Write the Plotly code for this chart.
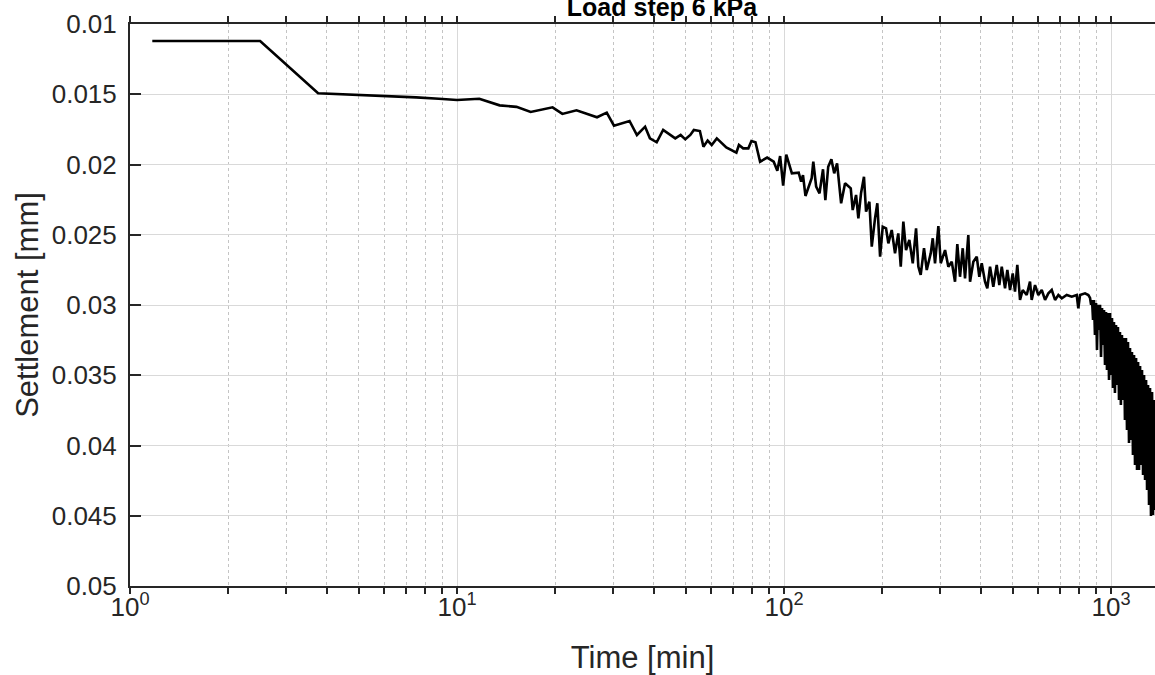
import plotly.graph_objects as go

# time [min] and settlement [mm]
time_min = [
    1.17, 2.5, 3.76, 5.0, 6.25, 7.5, 8.8, 10.0, 11.7, 13.5, 15.2, 16.8, 19.6, 21.0, 23.2, 26.8, 28.7, 30.2,
    33.7, 35.5, 37.6, 38.9, 40.8, 42.7, 46.5, 48.3, 49.9, 51.7, 53.0, 55.3, 56.7, 58.4, 60.1, 62.3,
    66.6, 71.5, 72.8, 75.0, 77.8, 79.5, 81.8, 84.5, 88.8, 93.0, 95.4, 97.3, 99.4, 101.6, 105.7, 110.9,
    112.8, 114.3, 116.3, 121.5, 122.9, 125.4, 128.4, 131.6, 133.8, 136.5, 139.6, 142.4, 145.3,
    149.5, 153.7, 160.0, 162.2, 166.1, 168.8, 172.0, 175.6, 178.2, 182.4, 185.5, 189.8, 192.9, 196.7,
    200.4, 205.1, 208.5, 213.5, 218.5, 223.6, 227.5, 231.7, 236.1, 241.7, 247.6, 253.4, 257.5, 261.8,
    268.0, 273.2, 281.0, 285.0, 289.6, 296.5, 301.5, 310.8, 318.1, 325.8, 333.4, 338.8, 345.3, 352.0,
    357.7, 366.1, 370.6, 379.3, 388.5, 395.6, 402.4, 411.8, 418.5, 426.6, 436.6, 447.2, 455.4, 463.3,
    474.1, 481.9, 491.1, 500.5, 508.6, 516.9, 526.9, 537.0, 552.3, 565.3, 572.0, 585.6, 599.4, 614.0,
    628.5, 643.3, 658.8, 674.3, 690.2, 706.9, 732.1, 758.3, 785.4, 794.3, 804.0, 832.8, 852.4,
    862.7, 869, 875, 881, 887, 893, 900, 906, 912, 918.6, 925.6, 932, 938.7, 945, 952, 958.5,
    965.5, 972, 979, 986, 993, 1000, 1007, 1014, 1021, 1028, 1036, 1043, 1050, 1058, 1065, 1072,
    1080, 1088, 1096, 1103, 1111, 1119, 1127, 1135, 1143, 1151, 1159, 1167, 1176, 1184, 1193, 1201,
    1210, 1218, 1227, 1235, 1244, 1253, 1262, 1271, 1280, 1289, 1298, 1307, 1316, 1325, 1335, 1344,
    1354, 1363,
]
settlement_mm = [
    0.01121, 0.01121, 0.01493, 0.01503, 0.01512, 0.01522, 0.01532, 0.01541, 0.01532, 0.01579, 0.0159,
    0.01626, 0.01593, 0.0164, 0.01614, 0.01664, 0.01631, 0.01724,
    0.0169, 0.0179, 0.01731, 0.01814, 0.01842, 0.01754, 0.01814, 0.0179, 0.01821, 0.0179, 0.01754,
    0.01762, 0.01873, 0.0183, 0.01861, 0.01814,
    0.01878, 0.01916, 0.01861, 0.01885, 0.01885, 0.01833, 0.01842, 0.0198, 0.01951, 0.0198, 0.02044,
    0.0194, 0.0215, 0.0193, 0.02063, 0.02058,
    0.02122, 0.02075, 0.02224, 0.02098, 0.0198, 0.02158, 0.02205, 0.02034, 0.02253, 0.02016, 0.01963,
    0.02063, 0.01992,
    0.02276, 0.02134, 0.0217, 0.02324, 0.02217, 0.02383, 0.02205, 0.02087, 0.02336, 0.02265, 0.02585,
    0.02383, 0.02276, 0.02656,
    0.02443, 0.02454, 0.02561, 0.02466, 0.02632, 0.0249, 0.02727, 0.02407, 0.02609, 0.02537, 0.02703,
    0.02454, 0.02727, 0.02786,
    0.02596, 0.02751, 0.02632, 0.02525, 0.02703, 0.02438, 0.02703, 0.02609, 0.02727, 0.02692, 0.02834,
    0.02566, 0.02799, 0.02596,
    0.0281, 0.02502, 0.02834, 0.02692, 0.02656, 0.02799, 0.02703, 0.02834, 0.02881, 0.02727, 0.0287,
    0.02715, 0.02858, 0.02727,
    0.02881, 0.02751, 0.02893, 0.02775, 0.02905, 0.02715, 0.02964, 0.02893, 0.02929, 0.02834, 0.02964,
    0.02858, 0.02929, 0.02893,
    0.02964, 0.02917, 0.02893, 0.02964, 0.02929, 0.02952, 0.02929, 0.02941, 0.02929, 0.03024, 0.02929,
    0.02917, 0.02929,
    0.0295, 0.02999, 0.02964, 0.03107, 0.02964, 0.03213, 0.02986, 0.0332, 0.02999, 0.03178, 0.02999,
    0.0337, 0.03021, 0.03285, 0.03035, 0.03427,
    0.0305, 0.03463, 0.03057, 0.03534, 0.03057, 0.03498, 0.03092, 0.03591, 0.03121, 0.03626, 0.03142,
    0.03569, 0.03156, 0.03676, 0.03192, 0.03712,
    0.03213, 0.03676, 0.03235, 0.03818, 0.03235, 0.0389, 0.03263, 0.03982, 0.03306, 0.03961, 0.03334,
    0.04067, 0.03356, 0.04139, 0.03377, 0.04174,
    0.03406, 0.04174, 0.03434, 0.04139, 0.03463, 0.0421, 0.03498, 0.04245, 0.03534, 0.04317, 0.03569,
    0.04423, 0.03591, 0.04502, 0.03619, 0.04495,
    0.03676, 0.04459,
]

x_major = [1, 10, 100, 1000]
x_major_text = ["10<sup>0</sup>", "10<sup>1</sup>", "10<sup>2</sup>", "10<sup>3</sup>"]
x_minor = [2, 3, 4, 5, 6, 7, 8, 9, 20, 30, 40, 50, 60, 70, 80, 90,
           200, 300, 400, 500, 600, 700, 800, 900]
y_ticks = [0.01, 0.015, 0.02, 0.025, 0.03, 0.035, 0.04, 0.045, 0.05]
y_ticks_text = ["0.01", "0.015", "0.02", "0.025", "0.03", "0.035", "0.04", "0.045", "0.05"]

ink = "#262626"
font = "Liberation Sans, Arial, sans-serif"

fig = go.Figure()
fig.add_trace(go.Scatter(x=time_min, y=settlement_mm, mode="lines",
                         line=dict(color="black", width=2.6), showlegend=False))

fig.update_layout(
    width=1155, height=675,
    margin=dict(l=130, r=0, t=24, b=89, autoexpand=False),
    paper_bgcolor="white", plot_bgcolor="white",
    font=dict(family=font, size=26, color=ink),
    title=dict(text="<b>Load step 6 kPa</b>", x=662 / 1155, xref="container", xanchor="center",
               y=1 - 7 / 675, yref="container", yanchor="middle",
               font=dict(family=font, size=25, color="black")),
    xaxis=dict(
        type="log", range=[0, 3.1345], automargin=False,
        title=dict(text="Time [min]", standoff=33),
        tickvals=x_major, ticktext=x_major_text,
        ticks="outside", ticklen=6, tickwidth=2, tickcolor=ink,
        ticklabelstandoff=-9,
        showline=True, linecolor=ink, linewidth=2, mirror="ticks",
        showgrid=True, gridcolor="#d9d9d9", gridwidth=1,
        minor=dict(tickvals=x_minor, ticks="outside", ticklen=6, tickwidth=2, tickcolor=ink,
                   showgrid=True, gridcolor="#c4c4c4", griddash="dot", gridwidth=1),
        zeroline=False,
    ),
    yaxis=dict(
        range=[0.05, 0.01], automargin=False,
        title=dict(text="Settlement [mm]", standoff=4),
        tickvals=y_ticks, ticktext=y_ticks_text,
        ticks="inside", ticklen=11, tickwidth=2, tickcolor=ink,
        ticklabelstandoff=6,
        showline=True, linecolor=ink, linewidth=2, mirror=False,
        showgrid=True, gridcolor="#d9d9d9", gridwidth=1,
        zeroline=False,
    ),
)

# the page's default body margin would shift the figure by 8 px
fig.write_html("out.html", config={"displayModeBar": False},
               post_script="document.body.style.margin = '0';")
